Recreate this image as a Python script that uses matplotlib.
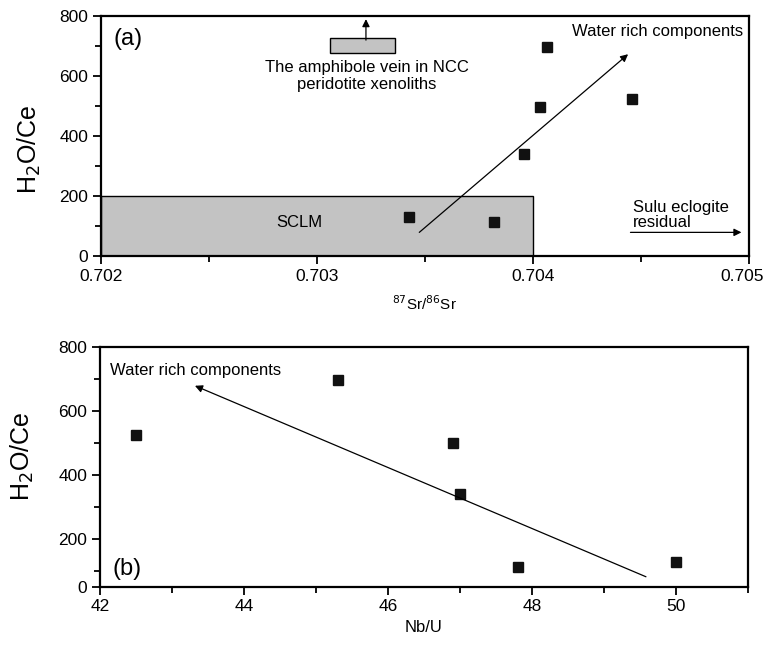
import matplotlib
matplotlib.use('Agg')
import matplotlib.pyplot as plt
from matplotlib.patches import Rectangle
from matplotlib.ticker import MultipleLocator, FixedLocator

plt.rcParams['font.family'] = ['Liberation Sans', 'DejaVu Sans']

# data (same six samples in both panels)
h2o_ce = [696, 498, 525, 339, 129, 113]
sr_ratio = [0.704065, 0.704034, 0.704460, 0.703961, 0.703427, 0.703819]
nb_u = [45.3, 46.9, 42.5, 47.0, 50.0, 47.8]

# reference fields
sclm_x = [0.702, 0.704]
sclm_y = [0, 200]
amph_x = [0.70306, 0.70336]
amph_y = [676, 726]

sr_ticks = [0.702, 0.703, 0.704, 0.705]
sr_minor = [0.7025, 0.7035, 0.7045]

fig = plt.figure(figsize=(7.68, 6.45), dpi=100)
ax1 = fig.add_axes([0.1315, 0.603, 0.8435, 0.372])
ax2 = fig.add_axes([0.130, 0.0904, 0.8443, 0.3721])

arrow = dict(arrowstyle='-|>', lw=0.9, color='black', mutation_scale=11,
             shrinkA=0, shrinkB=0)

def style_axes(ax):
    for s in ax.spines.values():
        s.set_linewidth(1.6)
    ax.tick_params(which='major', direction='out', length=6, width=1.3,
                   labelsize=12.5, pad=3)
    ax.tick_params(which='minor', direction='out', length=4, width=1.3)

# ---- panel (a) ----
ax1.add_patch(Rectangle((sclm_x[0], sclm_y[0]), sclm_x[1] - sclm_x[0],
                        sclm_y[1] - sclm_y[0], facecolor='#c3c3c3',
                        edgecolor='black', lw=1.0, zorder=1))
ax1.add_patch(Rectangle((amph_x[0], amph_y[0]), amph_x[1] - amph_x[0],
                        amph_y[1] - amph_y[0], facecolor='#c3c3c3',
                        edgecolor='black', lw=1.0, zorder=1))
ax1.annotate('', xy=(0.703227, 790), xytext=(0.703227, 720), arrowprops=arrow)
ax1.text(0.703231, 600, 'The amphibole vein in NCC\nperidotite xenoliths',
         ha='center', va='center', fontsize=12, linespacing=1.15)
ax1.text(0.70292, 113, 'SCLM', ha='center', va='center', fontsize=12)

ax1.plot(sr_ratio, h2o_ce, 's', color='#111111', ms=7.5, zorder=3)

ax1.annotate('', xy=(0.704441, 673), xytext=(0.703474, 79), arrowprops=arrow)
ax1.text(0.704975, 750, 'Water rich components', ha='right', va='center',
         fontsize=12)
ax1.text(0.704464, 138, 'Sulu eclogite\nresidual', ha='left', va='center',
         fontsize=12, linespacing=1.0)
ax1.annotate('', xy=(0.704966, 79), xytext=(0.704452, 79), arrowprops=arrow)
ax1.text(0.70206, 725, '(a)', ha='left', va='center', fontsize=17)

ax1.set_xlim(0.702, 0.705)
ax1.set_ylim(0, 800)
ax1.xaxis.set_major_locator(FixedLocator(sr_ticks))
ax1.xaxis.set_minor_locator(FixedLocator(sr_minor))
ax1.yaxis.set_major_locator(MultipleLocator(200))
ax1.yaxis.set_minor_locator(MultipleLocator(100))
# last label is nudged inside the figure, as in the original
xlabels = [f'{v:.3f}' for v in sr_ticks]
ax1.set_xticklabels(xlabels[:-1] + [''])
ax1.annotate(xlabels[-1], xy=(sr_ticks[-1], 0), xycoords=('data', 'axes fraction'),
             xytext=(-5, -9), textcoords='offset points', ha='center',
             va='top', fontsize=12.5)
ax1.set_xlabel('$^{87}$Sr/$^{86}$Sr', fontsize=11, labelpad=8)
ax1.set_ylabel('H$_2$O/Ce', fontsize=18)
ax1.yaxis.set_label_coords(-0.090, 0.445)
style_axes(ax1)

# ---- panel (b) ----
# the original axis starts a little above zero but the bottom tick reads "0"
ax2.plot(nb_u, h2o_ce, 's', color='#111111', ms=7.5, zorder=3)
ax2.annotate('', xy=(43.32, 678), xytext=(49.58, 82), arrowprops=arrow)
ax2.text(42.14, 727, 'Water rich components', ha='left', va='center',
         fontsize=12)
ax2.text(42.18, 105, '(b)', ha='left', va='center', fontsize=17)

ax2.set_xlim(42, 51)
ax2.set_ylim(51, 800)
ax2.xaxis.set_major_locator(MultipleLocator(2))
ax2.xaxis.set_minor_locator(MultipleLocator(1))
ax2.yaxis.set_major_locator(FixedLocator([51, 200, 400, 600, 800]))
ax2.yaxis.set_minor_locator(FixedLocator([100, 300, 500, 700]))
ax2.set_yticklabels(['0', '200', '400', '600', '800'])
ax2.set_xlabel('Nb/U', fontsize=12, labelpad=4)
ax2.set_ylabel('H$_2$O/Ce', fontsize=18)
ax2.yaxis.set_label_coords(-0.098, 0.545)
style_axes(ax2)

fig.savefig('out.png', dpi=100)
